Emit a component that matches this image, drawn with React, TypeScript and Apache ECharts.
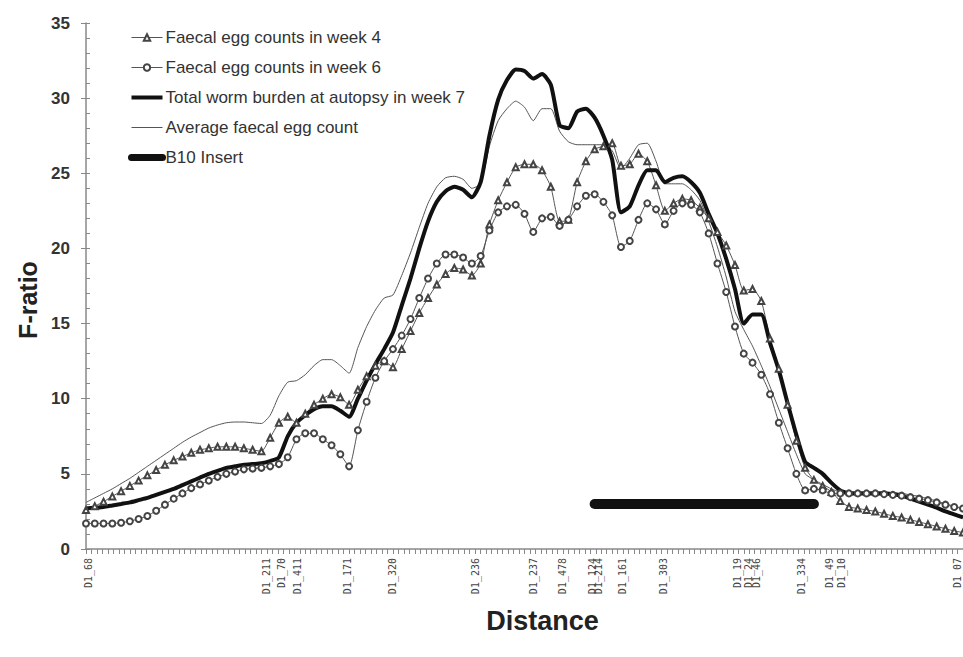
import { useEffect, useRef } from "react";
import * as echarts from "echarts";

// Map position (arbitrary distance units, 0–100)
const distance = [
  0, 1, 2, 3, 4, 5, 6, 7, 8, 9,
  10, 11, 12, 13, 14, 15, 16, 17, 18, 19,
  20, 21, 22, 23, 24, 25, 26, 27, 28, 29,
  30, 31, 32, 33, 34, 35, 36, 37, 38, 39,
  40, 41, 42, 43, 44, 45, 46, 47, 48, 49,
  50, 51, 52, 53, 54, 55, 56, 57, 58, 59,
  60, 61, 62, 63, 64, 65, 66, 67, 68, 69,
  70, 71, 72, 73, 74, 75, 76, 77, 78, 79,
  80, 81, 82, 83, 84, 85, 86, 87, 88, 89,
  90, 91, 92, 93, 94, 95, 96, 97, 98, 99,
  100,
];

const week4 = [
  2.6, 2.85, 3.15, 3.5, 3.85, 4.2, 4.55, 4.9, 5.25, 5.6,
  5.9, 6.15, 6.4, 6.6, 6.7, 6.8, 6.8, 6.8, 6.7, 6.6,
  6.5, 7.4, 8.4, 8.8, 8.4, 9.0, 9.6, 10.0, 10.3, 10.1,
  9.6, 10.6, 11.5, 12.2, 12.5, 12.1, 13.3, 14.5, 15.7, 16.7,
  17.6, 18.3, 18.7, 18.6, 18.2, 19.0, 21.6, 23.2, 24.4, 25.4,
  25.6, 25.6, 25.2, 24.1, 21.8, 21.9, 24.4, 25.8, 26.6, 26.8,
  27.0, 25.5, 25.6, 26.3, 25.8, 24.2, 22.5, 23.0, 23.3, 23.2,
  22.7, 22.0, 21.1, 20.2, 18.9, 17.2, 17.3, 16.5, 14.0, 12.0,
  9.6, 7.2, 5.4, 4.6, 4.2, 3.8, 3.2, 2.8, 2.7, 2.6,
  2.5, 2.35, 2.2, 2.1, 1.95, 1.8, 1.65, 1.5, 1.35, 1.2,
  1.1,
];

const week6 = [
  1.7, 1.7, 1.7, 1.7, 1.75, 1.85, 2.0, 2.2, 2.55, 2.95,
  3.35, 3.7, 4.05, 4.3, 4.55, 4.8, 5.0, 5.15, 5.3, 5.35,
  5.4, 5.5, 5.65, 6.1, 7.3, 7.7, 7.7, 7.3, 6.9, 6.3,
  5.5, 7.9, 9.8, 11.4, 12.5, 13.3, 14.2, 15.3, 16.7, 18.0,
  19.0, 19.6, 19.6, 19.4, 19.0, 19.5, 21.2, 22.4, 22.8, 22.9,
  22.3, 21.1, 22.0, 22.1, 21.5, 21.9, 22.8, 23.5, 23.6, 23.1,
  22.2, 20.1, 20.5, 21.9, 23.0, 22.6, 21.6, 22.5, 23.0, 22.9,
  22.4, 21.0, 19.0, 17.1, 14.8, 13.0, 12.4, 11.6, 10.3, 8.4,
  6.7, 5.0, 3.9, 4.0, 3.9, 3.7, 3.7, 3.7, 3.7, 3.7,
  3.7, 3.65, 3.6, 3.55, 3.45, 3.35, 3.25, 3.1, 2.95, 2.8,
  2.7,
];

const totalWorm = [
  2.7, 2.75, 2.8, 2.9, 3.0, 3.1, 3.25, 3.4, 3.6, 3.8,
  4.0, 4.25, 4.5, 4.75, 5.0, 5.2, 5.4, 5.5, 5.6, 5.65,
  5.7, 5.85, 6.1, 7.5, 8.4, 8.9, 9.3, 9.5, 9.5, 9.2,
  8.8, 10.0, 11.2, 12.3, 13.3, 14.4, 16.2, 18.0, 20.0, 21.8,
  23.1, 23.8, 24.1, 23.9, 23.4, 24.4, 27.5, 29.9, 31.2, 31.9,
  31.8, 31.3, 31.6, 30.9, 28.2, 28.0, 29.1, 29.3, 28.7, 27.5,
  25.9, 22.4, 22.8, 24.2, 25.2, 25.2, 24.4, 24.7, 24.8, 24.4,
  23.7, 22.3, 21.0, 19.3, 17.3, 15.0, 15.6, 15.6, 13.7, 11.9,
  9.7, 7.6, 5.8, 5.4, 5.0, 4.4, 3.9, 3.7, 3.7, 3.7,
  3.7, 3.7, 3.65, 3.55, 3.35, 3.15, 2.95, 2.75, 2.5, 2.3,
  2.1,
];

const avgEgg = [
  3.1, 3.4, 3.7, 4.0, 4.35, 4.7, 5.1, 5.5, 5.9, 6.3,
  6.7, 7.1, 7.45, 7.75, 8.05, 8.25, 8.4, 8.45, 8.45, 8.4,
  8.35, 8.9, 10.2, 11.1, 11.2, 11.6, 12.2, 12.6, 12.6, 12.2,
  11.7, 13.4, 14.8, 15.9, 16.7, 16.9, 18.2, 19.7, 21.4, 23.0,
  24.1, 24.7, 24.8, 24.6, 24.0, 24.3, 26.8, 28.5, 29.3, 29.8,
  29.4, 28.5, 29.3, 29.3, 27.8, 27.1, 26.9, 26.9, 26.9, 26.9,
  26.5, 25.3, 26.0, 26.9, 27.0, 25.8, 24.3, 24.3, 24.3, 23.9,
  23.2, 21.8, 20.1, 18.1, 15.8, 14.6, 13.5, 12.2, 10.8, 9.3,
  7.8, 6.3, 5.0, 4.6, 4.3, 4.0, 3.8, 3.8, 3.8, 3.8,
  3.8, 3.8, 3.75, 3.7, 3.6, 3.5, 3.35, 3.2, 3.0, 2.85,
  2.7,
];

const markerNames = [
  "D1_68", "D1_211", "D1_70", "D1_411", "D1_171", "D1_320", "D1_236",
  "D1_237", "D1_478", "D1_124", "D1_214", "D1_161", "D1_303",
  "D1_19", "D1_24", "D1_46", "D1_334", "D1_49", "D1_10", "D1_07",
];
const markerPos = [
  0.3, 20.6, 22.3, 24.1, 29.8, 35.0, 44.4,
  51.0, 54.3, 57.8, 58.4, 61.2, 65.8,
  74.3, 75.5, 76.5, 81.6, 84.8, 86.2, 99.4,
];

const insertStart = 58;
const insertEnd = 83;
const insertLevel = 3;

const seriesNames = [
  "Faecal egg counts in week 4",
  "Faecal egg counts in week 6",
  "Total worm burden at autopsy in week 7",
  "Average faecal egg count",
  "B10 Insert",
];

export default function App() {
  const ref = useRef<HTMLDivElement>(null);

  useEffect(() => {
    if (!ref.current) return;
    const chart = echarts.init(ref.current, null, { renderer: "svg" });
    const zip = (ys: number[]) => distance.map((x, i) => [x, ys[i]]);
    const font = "Liberation Sans, Arial, sans-serif";

    chart.setOption({
      animation: false,
      backgroundColor: "#ffffff",
      grid: { left: 86, right: 0, top: 23, bottom: 108, containLabel: false },
      legend: {
        orient: "vertical",
        left: 128,
        top: 29,
        padding: 0,
        itemWidth: 31,
        itemHeight: 8,
        itemGap: 13,
        data: [
          { name: seriesNames[0], lineStyle: { width: 1 } },
          { name: seriesNames[1], lineStyle: { width: 1 } },
          { name: seriesNames[2], lineStyle: { width: 4 }, itemStyle: { opacity: 0 } },
          { name: seriesNames[3], lineStyle: { width: 1 }, itemStyle: { opacity: 0 } },
          { name: seriesNames[4], lineStyle: { width: 7, cap: "round" }, itemStyle: { opacity: 0 } },
        ],
        textStyle: { fontFamily: font, fontSize: 17, color: "#333", padding: [0, 0, 0, -2] },
      },
      xAxis: {
        type: "value",
        min: 0,
        max: 100,
        interval: 0.625,
        name: "Distance",
        nameLocation: "middle",
        nameGap: 58,
        nameTextStyle: {
          fontFamily: font,
          fontWeight: "bold",
          fontSize: 27,
          color: "#222",
          padding: [0, 0, 0, 36],
        },
        axisLine: { show: true, onZero: false, lineStyle: { color: "#888", width: 1.5 } },
        axisTick: { show: true, length: 5, lineStyle: { color: "#888", width: 1 } },
        axisLabel: {
          customValues: markerPos,
          rotate: 90,
          margin: 9,
          fontFamily: "DejaVu Sans Mono, monospace",
          fontSize: 10,
          color: "#444",
          formatter: (v: number) => {
            const i = markerPos.findIndex((p) => Math.abs(p - v) < 1e-6);
            return i >= 0 ? markerNames[i] : "";
          },
        },
        splitLine: { show: false },
      },
      yAxis: [
        {
          type: "value",
          min: 0,
          max: 35,
          interval: 5,
          position: "left",
          name: "F-ratio",
          nameLocation: "middle",
          nameGap: 45,
          nameRotate: 90,
          nameTextStyle: {
            fontFamily: font,
            fontWeight: "bold",
            fontSize: 25,
            color: "#222",
            padding: [0, 28, 0, 0],
          },
          axisLine: { show: true, lineStyle: { color: "#888", width: 1.5 } },
          axisTick: { show: true, inside: true, length: 4, lineStyle: { color: "#888" } },
          minorTick: { show: true, splitNumber: 5, length: 4, lineStyle: { color: "#888" } },
          axisLabel: { margin: 16, fontFamily: font, fontWeight: "bold", fontSize: 17, color: "#333" },
          splitLine: { show: false },
        },
        {
          type: "value",
          min: 0,
          max: 35,
          interval: 5,
          position: "left",
          axisLine: { show: false },
          axisTick: { show: true, length: 5, lineStyle: { color: "#888" } },
          axisLabel: { show: false },
          splitLine: { show: false },
        },
      ],
      series: [
        {
          name: seriesNames[3],
          type: "line",
          data: zip(avgEgg),
          symbol: "none",
          smooth: 0.2,
          lineStyle: { color: "#555", width: 1 },
          itemStyle: { color: "#555" },
        },
        {
          name: seriesNames[0],
          type: "line",
          data: zip(week4),
          symbol: "emptyTriangle",
          symbolSize: 6,
          showAllSymbol: true,
          smooth: 0.2,
          lineStyle: { color: "#555", width: 1 },
          itemStyle: { color: "#444", borderWidth: 1 },
        },
        {
          name: seriesNames[1],
          type: "line",
          data: zip(week6),
          symbol: "emptyCircle",
          symbolSize: 6,
          showAllSymbol: true,
          smooth: 0.2,
          lineStyle: { color: "#555", width: 1 },
          itemStyle: { color: "#444", borderWidth: 1 },
        },
        {
          name: seriesNames[2],
          type: "line",
          data: zip(totalWorm),
          symbol: "none",
          smooth: 0.2,
          lineStyle: { color: "#111", width: 4 },
          itemStyle: { color: "#111" },
        },
        {
          name: seriesNames[4],
          type: "line",
          data: [
            [insertStart, insertLevel],
            [insertEnd, insertLevel],
          ],
          symbol: "none",
          lineStyle: { color: "#111", width: 10, cap: "round" },
          itemStyle: { color: "#111" },
        },
      ],
    });

    return () => chart.dispose();
  }, []);

  return (
    <div
      ref={ref}
      style={{ position: "fixed", left: 0, top: 0, width: 963, height: 657, background: "#fff" }}
    />
  );
}
